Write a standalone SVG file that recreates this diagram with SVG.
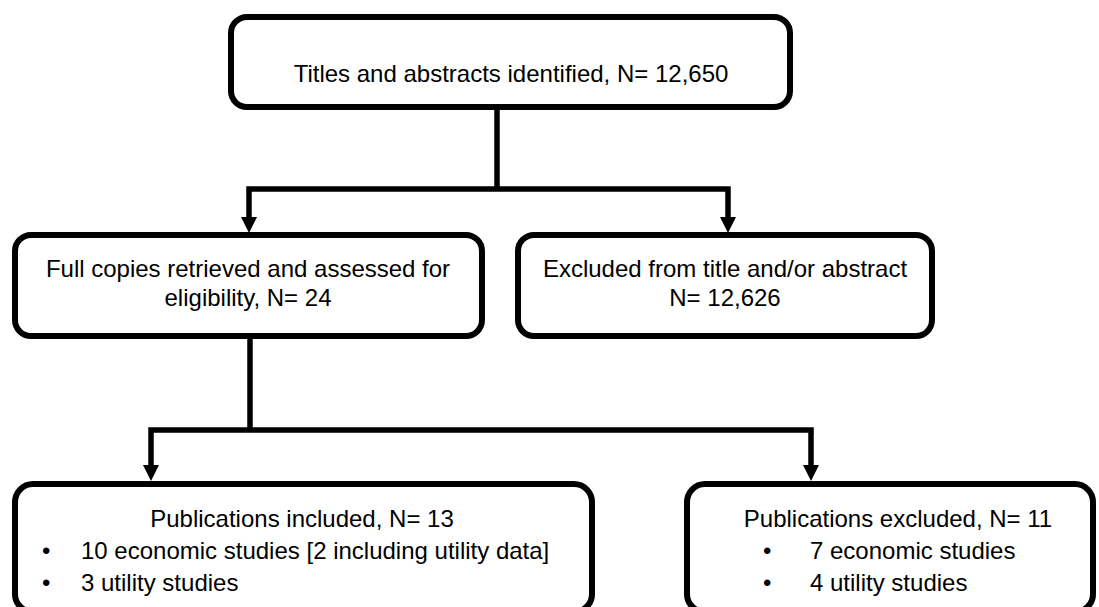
<svg xmlns="http://www.w3.org/2000/svg" width="1099" height="607" viewBox="0 0 1099 607">
<style>
.box{fill:#fff;stroke:#000;stroke-width:6}
.ln{fill:none;stroke:#000;stroke-width:5.5;stroke-linejoin:miter}
.t{font-family:"Liberation Sans",Arial,sans-serif;font-size:24px;fill:#000}
.c{text-anchor:middle}
</style>
<rect width="1099" height="607" fill="#fff"/>
<g id="connectors">
<path class="ln" d="M497,107 V189"/>
<path class="ln" d="M249,218 V189 H728 V218"/>
<path d="M241,217 L257,217 L249,233 Z"/>
<path d="M720,217 L736,217 L728,233 Z"/>
<path class="ln" d="M250,336 V430"/>
<path class="ln" d="M151,466 V430 H811 V466"/>
<path d="M143,465 L159,465 L151,481 Z"/>
<path d="M803,465 L819,465 L811,481 Z"/>
</g>
<g id="node-identified">
<rect class="box" x="231" y="17" width="559" height="90" rx="16"/>
<text class="t c" x="511" y="82">Titles and abstracts identified, N= 12,650</text>
</g>
<g id="node-fullcopies">
<rect class="box" x="15" y="235" width="467" height="101" rx="16"/>
<text class="t c" x="248" y="277">Full copies retrieved and assessed for</text>
<text class="t c" x="248" y="306">eligibility, N= 24</text>
</g>
<g id="node-excluded-title">
<rect class="box" x="518" y="235" width="414" height="101" rx="16"/>
<text class="t c" x="725" y="277">Excluded from title and/or abstract</text>
<text class="t c" x="725" y="306">N= 12,626</text>
</g>
<g id="node-included">
<rect class="box" x="15" y="484" width="577" height="128" rx="18"/>
<text class="t c" x="302" y="527">Publications included, N= 13</text>
<text class="t" x="42" y="559">•</text>
<text class="t" x="81" y="559">10 economic studies [2 including utility data]</text>
<text class="t" x="42" y="591">•</text>
<text class="t" x="81" y="591">3 utility studies</text>
</g>
<g id="node-excluded-pubs">
<rect class="box" x="687" y="484" width="406" height="128" rx="18"/>
<text class="t c" x="898" y="527">Publications excluded, N= 11</text>
<text class="t" x="763" y="559">•</text>
<text class="t" x="810" y="559">7 economic studies</text>
<text class="t" x="763" y="591">•</text>
<text class="t" x="810" y="591">4 utility studies</text>
</g>
</svg>
